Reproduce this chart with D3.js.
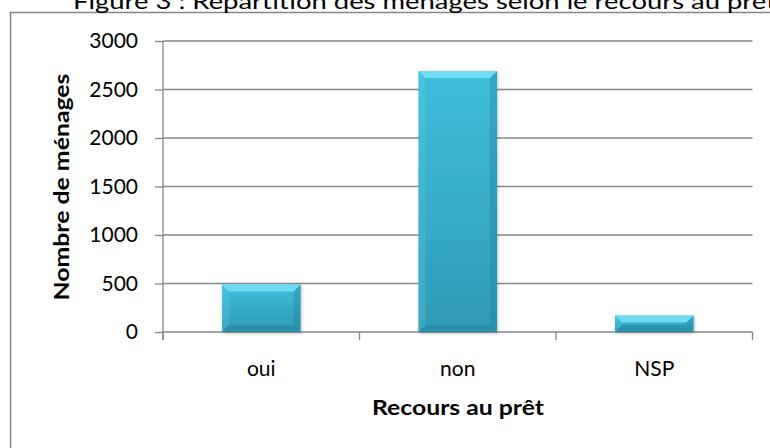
<!DOCTYPE html>
<html>
<head>
<meta charset="utf-8">
<script src="https://cdn.jsdelivr.net/npm/d3@7"></script>
<style>
  body { margin: 0; background: #fff; }
  svg { display: block; }
</style>
</head>
<body>
<div id="chart"></div>
<script>
const categories = ['oui', 'non', 'NSP']
const menages = [490, 2690, 170]
const yTicks = [0, 500, 1000, 1500, 2000, 2500, 3000]
const title = 'Figure 3 : Répartition des ménages selon le recours au prêt'
const xTitle = 'Recours au prêt'
const yTitle = 'Nombre de ménages'

const width = 770, height = 448
const plot = { left: 163, right: 752.5, top: 41, bottom: 332 }
const font = "Lato, 'Open Sans', sans-serif"
const grey = '#868686'

const svg = d3.select('#chart').append('svg')
  .attr('width', width)
  .attr('height', height)

// frame of the chart area (runs off the picture on the right and bottom)
svg.append('rect')
  .attr('x', 10.5).attr('y', 12.5)
  .attr('width', 800).attr('height', 500)
  .attr('fill', '#fff')
  .attr('stroke', grey)
  .attr('stroke-width', 1.5)

// title, cut at the top like the original
svg.append('text')
  .attr('x', 73).attr('y', 9)
  .attr('font-family', font)
  .attr('font-size', 21)
  .attr('textLength', 703)
  .attr('lengthAdjust', 'spacingAndGlyphs')
  .attr('fill', '#000')
  .text(title)

const x = d3.scaleBand()
  .domain(categories)
  .range([plot.left, plot.right])
  .paddingInner(0.6)
  .paddingOuter(0.3)

const y = d3.scaleLinear()
  .domain([0, 3000])
  .range([plot.bottom, plot.top])

// gridlines
svg.append('g')
  .selectAll('line')
  .data(yTicks.slice(1))
  .enter()
  .append('line')
  .attr('x1', plot.left).attr('x2', plot.right)
  .attr('y1', d => y(d)).attr('y2', d => y(d))
  .attr('stroke', grey)
  .attr('stroke-width', 1.3)

// y axis
const yAxis = d3.axisLeft(y).tickValues(yTicks).tickSize(8).tickPadding(17).tickFormat(d3.format('d'))
const gY = svg.append('g').attr('transform', `translate(${plot.left},0)`).call(yAxis)
gY.select('.domain').remove()
gY.selectAll('.tick line').attr('stroke', grey).attr('stroke-width', 1.3)
gY.selectAll('.tick text')
  .attr('font-family', font)
  .attr('font-size', 21)
  .attr('fill', '#000')
gY.append('line')
  .attr('x1', 0).attr('x2', 0)
  .attr('y1', plot.top).attr('y2', plot.bottom + 8)
  .attr('stroke', grey).attr('stroke-width', 1.3)

// x axis
const step = x.step()
const boundaries = d3.range(categories.length + 1).map(i => plot.left + i * step)
const gX = svg.append('g')
gX.append('line')
  .attr('x1', plot.left).attr('x2', plot.right)
  .attr('y1', plot.bottom).attr('y2', plot.bottom)
  .attr('stroke', grey).attr('stroke-width', 1.3)
gX.selectAll('.xt')
  .data(boundaries)
  .enter()
  .append('line')
  .attr('x1', d => d).attr('x2', d => d)
  .attr('y1', plot.bottom).attr('y2', plot.bottom + 8)
  .attr('stroke', grey).attr('stroke-width', 1.3)
gX.selectAll('.xl')
  .data(categories)
  .enter()
  .append('text')
  .attr('x', d => x(d) + x.bandwidth() / 2)
  .attr('y', 376)
  .attr('text-anchor', 'middle')
  .attr('font-family', font)
  .attr('font-size', 21)
  .attr('fill', '#000')
  .text(d => d)

// axis titles
svg.append('text')
  .attr('x', 458)
  .attr('y', 415)
  .attr('text-anchor', 'middle')
  .attr('font-family', font)
  .attr('font-size', 20)
  .attr('font-weight', 'bold')
  .attr('textLength', 172)
  .attr('lengthAdjust', 'spacingAndGlyphs')
  .attr('fill', '#000')
  .text(xTitle)

svg.append('text')
  .attr('transform', 'translate(69,187) rotate(-90)')
  .attr('text-anchor', 'middle')
  .attr('font-family', font)
  .attr('font-size', 20)
  .attr('font-weight', 'bold')
  .attr('textLength', 227)
  .attr('lengthAdjust', 'spacingAndGlyphs')
  .attr('fill', '#000')
  .text(yTitle)

// bars with bevel
const defs = svg.append('defs')
const grad = defs.append('linearGradient')
  .attr('id', 'barFill')
  .attr('x1', 0).attr('y1', 0).attr('x2', 0).attr('y2', 1)
grad.append('stop').attr('offset', '0%').attr('stop-color', '#40bedd')
grad.append('stop').attr('offset', '100%').attr('stop-color', '#2f9ab5')

const shadow = defs.append('filter').attr('id', 'barShadow')
  .attr('x', '-10%').attr('y', '-10%').attr('width', '130%').attr('height', '130%')
shadow.append('feDropShadow')
  .attr('dx', 1).attr('dy', 1.5).attr('stdDeviation', 1.5)
  .attr('flood-color', '#000').attr('flood-opacity', 0.25)

const data = categories.map((c, i) => ({ cat: c, value: menages[i] }))
const bars = svg.append('g')
  .selectAll('g')
  .data(data)
  .enter()
  .append('g')
  .attr('filter', 'url(#barShadow)')

bars.each(function (d) {
  const g = d3.select(this)
  const x0 = x(d.cat), x1 = x0 + x.bandwidth()
  const y0 = y(d.value), y1 = y(0)
  const b = Math.min(7, (y1 - y0) / 2)
  g.append('rect')
    .attr('x', x0).attr('y', y0)
    .attr('width', x1 - x0).attr('height', y1 - y0)
    .attr('fill', 'url(#barFill)')
  const pts = p => p.map(q => q.join(',')).join(' ')
  // top bevel
  g.append('polygon')
    .attr('points', pts([[x0, y0], [x1, y0], [x1 - b, y0 + b], [x0 + b, y0 + b]]))
    .attr('fill', '#7ae4f8').attr('opacity', 0.8)
  // left bevel
  g.append('polygon')
    .attr('points', pts([[x0, y0], [x0 + b, y0 + b], [x0 + b, y1 - b], [x0, y1]]))
    .attr('fill', '#5fd0ea').attr('opacity', 0.25)
  // right bevel
  g.append('polygon')
    .attr('points', pts([[x1, y0], [x1, y1], [x1 - b, y1 - b], [x1 - b, y0 + b]]))
    .attr('fill', '#1d7d96').attr('opacity', 0.35)
  // bottom bevel
  g.append('polygon')
    .attr('points', pts([[x0, y1], [x0 + b, y1 - b], [x1 - b, y1 - b], [x1, y1]]))
    .attr('fill', '#1d7187').attr('opacity', 0.3)
})
</script>
</body>
</html>
